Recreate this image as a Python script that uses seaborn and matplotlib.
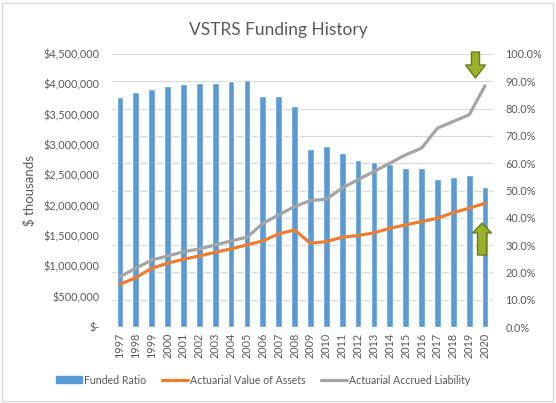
import pandas as pd
import matplotlib
matplotlib.use("Agg")
import matplotlib.pyplot as plt
import seaborn as sns
from matplotlib.patches import Polygon, Rectangle, Patch
from matplotlib.lines import Line2D
from matplotlib.ticker import FuncFormatter

# data
years = [str(y) for y in range(1997, 2021)]
funded_ratio = [84.1, 85.9, 87.3, 88.1, 88.9, 89.2, 89.5, 90.1, 90.6, 84.5, 84.7, 80.8,
                65.2, 66.4, 63.7, 61.2, 60.4, 59.6, 58.4, 58.1, 54.1, 55.1, 55.5, 51.1]
assets = [704, 813, 968, 1050, 1117, 1170, 1232, 1287, 1355, 1419, 1535, 1600,
          1381, 1408, 1480, 1507, 1552, 1628, 1683, 1738, 1793, 1886, 1958, 2040]
liability = [830, 968, 1105, 1170, 1240, 1287, 1353, 1419, 1480, 1705, 1848, 1985,
             2084, 2107, 2290, 2430, 2563, 2700, 2838, 2948, 3278, 3388, 3498, 3977]

df = pd.DataFrame({"year": years, "ratio": funded_ratio,
                   "assets": [a * 1000 for a in assets],
                   "liability": [v * 1000 for v in liability]})

sns.set_theme(style="white")
plt.rcParams["font.family"] = ["Lato", "DejaVu Sans"]
txt = "#595959"

W, H = 556, 403
fig = plt.figure(figsize=(W / 100, H / 100), dpi=100)
ax = fig.add_axes([112 / W, 1 - 327 / H, (493 - 112) / W, (327 - 54) / H])

# bars use the percent scale (shown on the right)
sns.barplot(data=df, x="year", y="ratio", color="#5B9BD5", width=0.42,
            saturation=1, ax=ax, zorder=2)
ax.set_ylim(0, 100)
ax.set_yticks(range(0, 101, 10))
ax.set_ylabel("")
ax.set_xlabel("")
ax.grid(axis="y", color="#D9D9D9", linewidth=0.8, zorder=0)
ax.set_axisbelow(True)
ax.set_xlim(-0.5, len(years) - 0.5)

# lines on the dollar scale (shown on the left)
ax2 = ax.twinx()
sns.lineplot(data=df, x="year", y="assets", color="#ED7D31", linewidth=2.3, ax=ax2)
sns.lineplot(data=df, x="year", y="liability", color="#A5A5A5", linewidth=2.3, ax=ax2)
ax2.set_ylim(0, 4500000)
ax2.set_yticks(range(0, 4500001, 500000))
ax2.set_xlim(-0.5, len(years) - 0.5)
ax2.set_xlabel("")

# swap sides: percent on the right, dollars on the left
ax.yaxis.tick_right()
ax.yaxis.set_major_formatter(FuncFormatter(lambda v, p: f"{v:.1f}%"))
ax2.yaxis.tick_left()
ax2.yaxis.set_label_position("left")
ax2.yaxis.set_major_formatter(FuncFormatter(lambda v, p: "$-" if v == 0 else f"${v:,.0f}"))
ax2.set_ylabel("$ thousands", color=txt, fontsize=9.5, labelpad=6)

for a in (ax, ax2):
    for s in a.spines.values():
        s.set_visible(False)
    a.tick_params(axis="y", length=0, labelsize=7.8, labelcolor=txt, pad=9)
ax.tick_params(axis="x", length=0, labelsize=7.8, labelcolor=txt, rotation=90, pad=4)

fig.text(0.5, 1 - 30 / H, "VSTRS Funding History", ha="center", va="center",
         fontsize=12.5, color=txt)

handles = [Patch(color="#5B9BD5"),
           Line2D([], [], color="#ED7D31", linewidth=2.3),
           Line2D([], [], color="#A5A5A5", linewidth=2.3)]
labels = ["Funded Ratio", "Actuarial Value of Assets", "Actuarial Accrued Liability"]
fig.legend(handles, labels, loc="center", bbox_to_anchor=(263 / W, 1 - 380 / H),
           ncol=3, frameon=False, fontsize=7.6, labelcolor=txt, handlelength=2.5,
           handleheight=0.6, columnspacing=1.5, handletextpad=0.15)


def block_arrow(cx, y_start, y_tip, shaft, head, head_len):
    d = 1 if y_tip > y_start else -1
    yb = y_tip - d * head_len
    pts = [(cx - shaft / 2, y_start), (cx + shaft / 2, y_start), (cx + shaft / 2, yb),
           (cx + head / 2, yb), (cx, y_tip), (cx - head / 2, yb), (cx - shaft / 2, yb)]
    pts = [(x / 100, (H - y) / 100) for x, y in pts]
    fig.patches.append(Polygon(pts, closed=True, transform=fig.dpi_scale_trans,
                               facecolor="#9BB12A", edgecolor="#6B7D1B", linewidth=1.0,
                               zorder=10))


block_arrow(475.5, 52, 78, 8, 20, 13)
block_arrow(482, 255, 223, 9, 19, 10)

fig.patches.append(Rectangle((2 / W, 2 / H), (W - 5) / W, (H - 5) / H, transform=fig.transFigure,
                             fill=False, edgecolor="#D9D9D9", linewidth=1.0))

fig.savefig("out.png", dpi=100)
